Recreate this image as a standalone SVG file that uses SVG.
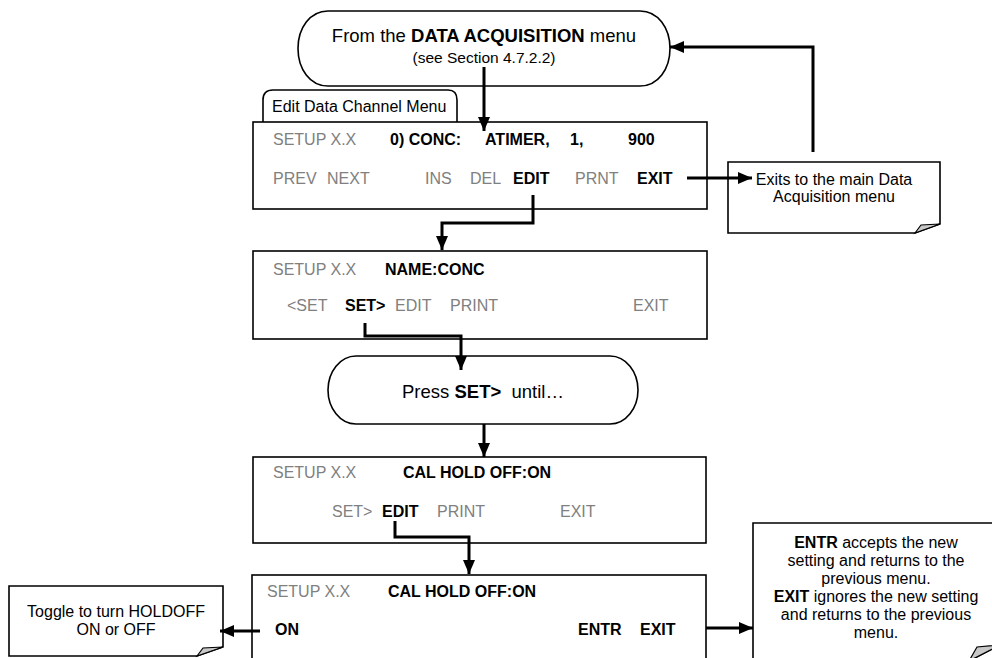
<svg xmlns="http://www.w3.org/2000/svg" width="992" height="658" viewBox="0 0 992 658">
<style>
text{font-family:"Liberation Sans",Arial,sans-serif;font-size:16px;fill:#000}
.g{fill:#808080}
.b{font-weight:bold}
.big{font-size:18.5px}
.m{text-anchor:middle}
.box{fill:#fff;stroke:#000;stroke-width:1.6}
.note{fill:#fff;stroke:#000;stroke-width:1.6}
.fold{fill:#c8c8c8;stroke:#000;stroke-width:1.2}
.conn{fill:none;stroke:#000;stroke-width:3}
</style>
<defs>
<marker id="ah" markerUnits="userSpaceOnUse" markerWidth="14" markerHeight="12" refX="14" refY="6" orient="auto">
<path d="M0,0 L14,6 L0,12 Z" fill="#000"/>
</marker>
</defs>

<g id="start">
<path class="box" d="M328,11 H640 C658,11 670,28 670,48.5 C670,69 658,86 640,86 H328 C310,86 298,69 298,48.5 C298,28 310,11 328,11 Z"/>
<text class="big m" x="484" y="42">From the <tspan class="b">DATA ACQUISITION</tspan> menu</text>
<text class="m" x="484" y="63" style="font-size:15.5px">(see Section 4.7.2.2)</text>
</g>

<g id="screen1">
<path class="box" d="M263,122 V100 Q263,90 273,90 H448 Q457,90 457,100 V122"/>
<text x="272" y="112">Edit Data Channel Menu</text>
<rect class="box" x="253" y="122" width="454" height="87"/>
<text class="g" x="273" y="145">SETUP X.X</text>
<text class="b" x="390" y="145">0) CONC:</text>
<text class="b" x="485" y="145">ATIMER,</text>
<text class="b" x="570" y="145">1,</text>
<text class="b" x="628" y="145">900</text>
<text class="g" x="273" y="184">PREV</text>
<text class="g" x="327" y="184">NEXT</text>
<text class="g" x="425" y="184">INS</text>
<text class="g" x="470" y="184">DEL</text>
<text class="b" x="513" y="184">EDIT</text>
<text class="g" x="575" y="184">PRNT</text>
<text class="b" x="637" y="184">EXIT</text>
</g>

<g id="note-exit">
<path class="note" d="M728,162 H940 V224 L915,233 H728 Z"/>
<path class="fold" d="M915,233 L921,225 L940,224 Z"/>
<text class="m" x="834" y="185">Exits to the main Data</text>
<text class="m" x="834" y="202">Acquisition menu</text>
</g>

<g id="screen2">
<rect class="box" x="253" y="251" width="454" height="88"/>
<text class="g" x="273" y="275">SETUP X.X</text>
<text class="b" x="385" y="275">NAME:CONC</text>
<text class="g" x="287" y="311">&lt;SET</text>
<text class="b" x="345" y="311">SET&gt;</text>
<text class="g" x="395" y="311">EDIT</text>
<text class="g" x="450" y="311">PRINT</text>
<text class="g" x="633" y="311">EXIT</text>
</g>

<g id="press">
<path class="box" d="M356,356 H610 C626,356 638,372 638,390 C638,408 626,424 610,424 H356 C340,424 328,408 328,390 C328,372 340,356 356,356 Z"/>
<text class="big m" x="483" y="398" xml:space="preserve">Press <tspan class="b">SET&gt;</tspan>  until…</text>
</g>

<g id="screen3">
<rect class="box" x="253" y="457" width="453" height="86"/>
<text class="g" x="273" y="478">SETUP X.X</text>
<text class="b" x="403" y="478">CAL HOLD OFF:ON</text>
<text class="g" x="332" y="517">SET&gt;</text>
<text class="b" x="382" y="517">EDIT</text>
<text class="g" x="437" y="517">PRINT</text>
<text class="g" x="560" y="517">EXIT</text>
</g>

<g id="screen4">
<rect class="box" x="252" y="575" width="454" height="100"/>
<text class="g" x="267" y="597">SETUP X.X</text>
<text class="b" x="388" y="597">CAL HOLD OFF:ON</text>
<text class="b" x="275" y="635">ON</text>
<text class="b" x="578" y="635">ENTR</text>
<text class="b" x="640" y="635">EXIT</text>
</g>

<g id="note-toggle">
<path class="note" d="M9,586 H223 V647 L197,656 H9 Z"/>
<path class="fold" d="M197,656 L203,648 L223,647 Z"/>
<text class="m" x="116" y="617">Toggle to turn HOLDOFF</text>
<text class="m" x="116" y="635">ON or OFF</text>
</g>

<g id="note-entr">
<path class="note" d="M753,523 H1000 V645 L969,661 H753 Z"/>
<path class="fold" d="M969,661 L977,647 L1000,645 Z"/>
<text class="m" x="876" y="548"><tspan class="b">ENTR</tspan> accepts the new</text>
<text class="m" x="876" y="566">setting and returns to the</text>
<text class="m" x="876" y="584">previous menu.</text>
<text class="m" x="876" y="602"><tspan class="b">EXIT</tspan> ignores the new setting</text>
<text class="m" x="876" y="620">and returns to the previous</text>
<text class="m" x="876" y="638">menu.</text>
</g>

<g id="connectors">
<path class="conn" d="M484,67 V131" marker-end="url(#ah)"/>
<path class="conn" d="M687,178 H752" marker-end="url(#ah)"/>
<path class="conn" d="M813,152 V47 H670" marker-end="url(#ah)"/>
<path class="conn" d="M533,195 V223 H442 V250" marker-end="url(#ah)"/>
<path class="conn" d="M365,323 V336 H461 V370" marker-end="url(#ah)"/>
<path class="conn" d="M484,424 V457" marker-end="url(#ah)"/>
<path class="conn" d="M395,521 V537 H469 V574" marker-end="url(#ah)"/>
<path class="conn" d="M260,631 H220" marker-end="url(#ah)"/>
<path class="conn" d="M706,628 H753" marker-end="url(#ah)"/>
</g>
</svg>
